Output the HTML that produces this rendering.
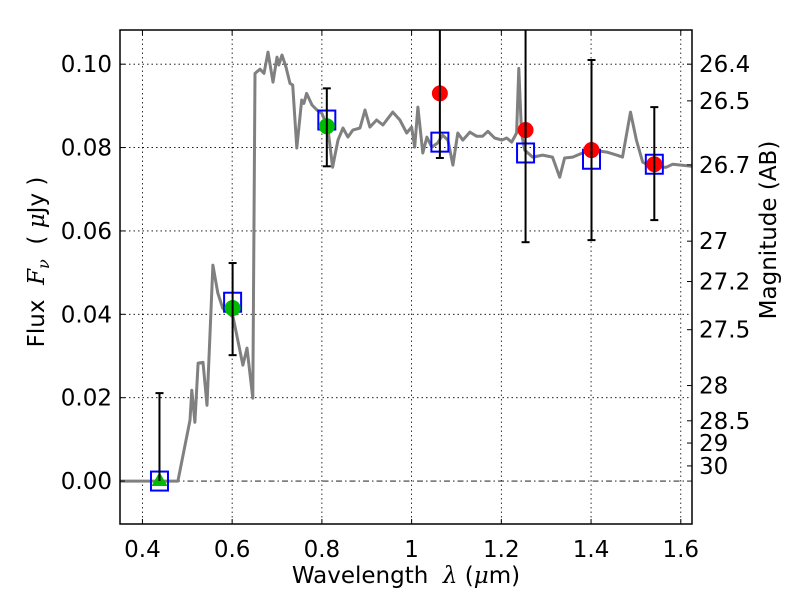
<!DOCTYPE html>
<html><head><meta charset="utf-8"><style>
body{margin:0;background:#fff;}
svg{display:block;font-family:"DejaVu Sans","Liberation Sans",sans-serif;}
</style></head><body>
<svg id="chart" width="800" height="600" viewBox="0 0 800 600" xmlns="http://www.w3.org/2000/svg">
<defs><clipPath id="clip"><rect x="120" y="30" width="572" height="494"/></clipPath></defs>
<rect x="0" y="0" width="800" height="600" fill="#fff"/>
<g id="grid"></g>
<g id="marks" clip-path="url(#clip)"></g>
<rect x="120" y="30" width="572" height="494" fill="none" stroke="#000" stroke-width="1.5"/>
<g id="axes"></g>
<text x="406" y="583" font-size="23" text-anchor="middle" xml:space="preserve">Wavelength  <tspan font-family="DejaVu Serif" font-style="italic">λ</tspan> (<tspan font-family="DejaVu Serif" font-style="italic">μ</tspan>m)</text>
<text transform="translate(44,262) rotate(-90)" font-size="23" text-anchor="middle" xml:space="preserve">Flux  <tspan font-family="DejaVu Serif" font-style="italic">F<tspan font-size="16" dy="5">ν</tspan></tspan><tspan dy="-5">  ( </tspan><tspan font-family="DejaVu Serif" font-style="italic">μ</tspan>Jy )</text>
<text transform="translate(776,230) rotate(-90)" font-size="23" text-anchor="middle">Magnitude (AB)</text>
</svg>
<script>
const xTicks=[0.4,0.6,0.8,1.0,1.2,1.4,1.6];
const xTickLabels=["0.4","0.6","0.8","1","1.2","1.4","1.6"];
const yTicks=[0,0.02,0.04,0.06,0.08,0.10];
const yTickLabels=["0.00","0.02","0.04","0.06","0.08","0.10"];
const magTicks=[26.4,26.5,26.7,27,27.2,27.5,28,28.5,29,30];
const magTickLabels=["26.4","26.5","26.7","27","27.2","27.5","28","28.5","29","30"];
const modelLam=[0.35,0.479,0.506,0.510,0.517,0.524,0.535,0.544,0.557,0.568,0.579,0.602,0.624,0.633,0.646,0.651,0.662,0.671,0.680,0.691,0.700,0.704,0.711,0.720,0.729,0.735,0.744,0.755,0.760,0.766,0.778,0.789,0.800,0.813,0.824,0.836,0.847,0.858,0.869,0.885,0.896,0.907,0.922,0.936,0.958,0.974,0.989,1.000,1.007,1.014,1.025,1.034,1.045,1.058,1.069,1.081,1.092,1.103,1.114,1.130,1.145,1.158,1.170,1.185,1.201,1.212,1.223,1.234,1.239,1.245,1.252,1.270,1.292,1.314,1.330,1.341,1.359,1.381,1.403,1.435,1.457,1.470,1.488,1.501,1.515,1.537,1.568,1.582,1.625];
const modelFlux=[0,0,0.0146,0.0218,0.0141,0.0283,0.0285,0.0182,0.0518,0.0451,0.0415,0.0393,0.0278,0.0319,0.0199,0.0978,0.0988,0.0978,0.1029,0.0957,0.1017,0.0998,0.1022,0.0993,0.0954,0.0950,0.0799,0.0914,0.0906,0.0930,0.0902,0.0890,0.0882,0.0849,0.0753,0.0818,0.0847,0.0825,0.0842,0.0847,0.0890,0.0849,0.0866,0.0854,0.0885,0.0866,0.0835,0.0849,0.0801,0.0897,0.0787,0.0825,0.0801,0.0811,0.0830,0.0818,0.0758,0.0835,0.0818,0.0837,0.0827,0.0827,0.0839,0.0823,0.0818,0.0823,0.0813,0.0835,0.0990,0.0835,0.0794,0.0777,0.0782,0.0777,0.0729,0.0775,0.0777,0.0787,0.0794,0.0789,0.0782,0.0777,0.0885,0.0818,0.0765,0.0753,0.0753,0.0760,0.0755];
const bandLam=[0.438,0.601,0.811,1.063,1.254,1.401,1.541];
const obsFlux=[0.0,0.0415,0.0851,0.0930,0.0842,0.0794,0.0760];
const obsErrHi=[0.0211,0.0523,0.0942,0.115,0.115,0.1010,0.0897];
const obsErrLo=[0.0,0.0302,0.0755,0.0775,0.0573,0.0578,0.0626];
const obsKind=["triangle","green","green","red","red","red","red"];
const synthFlux=[0.0,0.0429,0.0866,0.0813,0.0787,0.0772,0.0760];

const NS="http://www.w3.org/2000/svg";
const X0=120,X1=692,Y0=524,Y1=30,XMIN=0.35,XMAX=1.625,YMIN=-0.0103,YMAX=0.1082;
const xs=v=>X0+(v-XMIN)/(XMAX-XMIN)*(X1-X0);
const ys=v=>Y0-(v-YMIN)/(YMAX-YMIN)*(Y0-Y1);
const magToFlux=m=>Math.pow(10,(23.9-m)/2.5);
function mk(tag,attrs,parent){const e=document.createElementNS(NS,tag);for(const k in attrs)e.setAttribute(k,attrs[k]);parent.appendChild(e);return e;}
const grid=document.getElementById('grid'),marks=document.getElementById('marks'),axes=document.getElementById('axes');

xTicks.forEach((t,i)=>{const x=xs(t);
 let g=mk('line',{x1:x,x2:x,y1:Y1,y2:Y0,stroke:'#000','stroke-width':0.8,'stroke-dasharray':'1.5,3'},grid);
 
 mk('line',{x1:x,x2:x,y1:Y0,y2:Y0-5,stroke:'#000','stroke-width':1},axes);
 mk('line',{x1:x,x2:x,y1:Y1,y2:Y1+5,stroke:'#000','stroke-width':1},axes);
 let l=mk('text',{x:x,y:557,'font-size':23,'text-anchor':'middle'},axes);l.textContent=xTickLabels[i];
 });
yTicks.forEach((t,i)=>{const y=ys(t);
 let g=mk('line',{x1:X0,x2:X1,y1:y,y2:y,stroke:'#000','stroke-width':0.8,'stroke-dasharray':t===0?'6,3,1.5,3':'1.5,3'},grid);
 
 mk('line',{x1:X0,x2:X0+5,y1:y,y2:y,stroke:'#000','stroke-width':1},axes);
 let l=mk('text',{x:112,y:y+8,'font-size':23,'text-anchor':'end'},axes);l.textContent=yTickLabels[i];
 });
magTicks.forEach((m,i)=>{const y=ys(magToFlux(m));
 mk('line',{x1:X1-5,x2:X1,y1:y,y2:y,stroke:'#000','stroke-width':1},axes);
 let l=mk('text',{x:699,y:y+8,'font-size':23},axes);l.textContent=magTickLabels[i];
 });

let d='';modelLam.forEach((l,i)=>{d+=(i?'L':'M')+xs(l).toFixed(1)+','+ys(modelFlux[i]).toFixed(1);});
const path=mk('path',{d:d,fill:'none',stroke:'#808080','stroke-width':3,'stroke-linejoin':'round'},marks);


bandLam.forEach((l,i)=>{const x=xs(l);
 const eb=mk('g',{},marks);
 
 const yh=ys(obsErrHi[i]),yl=ys(obsErrLo[i]);
 mk('line',{x1:x-4,x2:x+4,y1:yh,y2:yh,stroke:'#000','stroke-width':2},eb);
 mk('line',{x1:x-4,x2:x+4,y1:yl,y2:yl,stroke:'#000','stroke-width':2},eb);
 const ys_=ys(synthFlux[i]);
 const sq=mk('rect',{x:x-8.5,y:ys_-9.5,width:17,height:19,fill:'none',stroke:'#0000ff','stroke-width':2},marks);
 
 const yo=ys(obsFlux[i]);let p;
 if(obsKind[i]==='triangle'){p=mk('polygon',{points:`${x},${yo-9} ${x-8},${yo+5} ${x+8},${yo+5}`,fill:'#00bb00'},marks);}
 else{p=mk('circle',{cx:x,cy:yo,r:8,fill:obsKind[i]==='red'?'#ff0000':'#00bb00'},marks);}
 
 const vl=mk('line',{x1:x,x2:x,y1:yh,y2:yl,stroke:'#000','stroke-width':2},marks);
 
 
});
</script>
</body></html>
